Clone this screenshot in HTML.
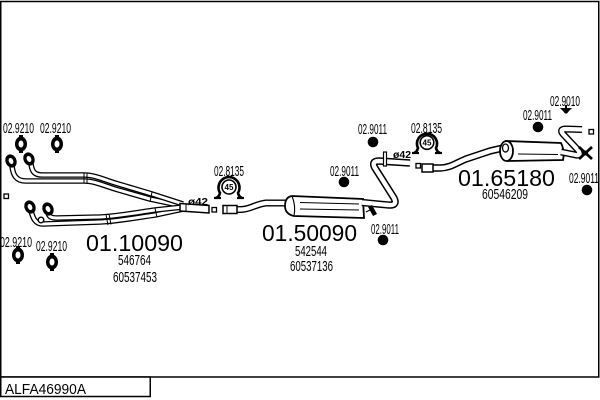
<!DOCTYPE html>
<html><head><meta charset="utf-8"><style>
html,body{margin:0;padding:0;background:#fff;}
svg{display:block;}
text{font-family:"Liberation Sans",Arial,sans-serif;fill:#000;}
.po{fill:none;stroke:#000;stroke-width:5.6;stroke-linejoin:round;}
.pi{fill:none;stroke:#fff;stroke-width:3;stroke-linejoin:round;}
.qo{fill:none;stroke:#000;stroke-width:7.4;stroke-linejoin:round;}
.qi{fill:none;stroke:#fff;stroke-width:4.4;stroke-linejoin:round;}
.s{font-size:14.5px;}
.b{font-size:23.5px;}
</style></head><body>
<svg width="600" height="400" viewBox="0 0 600 400" xmlns="http://www.w3.org/2000/svg">
<!-- frame -->
<rect x="0.75" y="1.5" width="598" height="375.5" fill="none" stroke="#000" stroke-width="1.5"/>
<rect x="0.75" y="377" width="149.5" height="19.5" fill="#fff" stroke="#000" stroke-width="1.5"/>
<text x="5" y="394" font-size="14.5" textLength="81" lengthAdjust="spacingAndGlyphs">ALFA46990A</text>

<!-- left header pipes -->
<path class="po" d="M12,166 C13,175 16,181 26,181 L84,181 C95,181 105,186 115,189 L150,199 L183,206"/>
<path class="pi" d="M12,166 C13,175 16,181 26,181 L84,181 C95,181 105,186 115,189 L150,199 L183,206"/>
<path class="po" d="M31,164 C32,171 34,175 42,175 L84,175 C95,175 105,180 115,183 L152,194 L183,204"/>
<path class="pi" d="M31,164 C32,171 34,175 42,175 L84,175 C95,175 105,180 115,183 L152,194 L183,204"/>
<path class="po" d="M31,211 C33,218 35,224 43,224 L100,222 C120,221 140,217 155,215 L183,209"/>
<path class="pi" d="M31,211 C33,218 35,224 43,224 L100,222 C120,221 140,217 155,215 L183,209"/>
<path class="po" d="M48,213 C49,216 50,218 57,218 L100,217 C120,216 140,212 155,210 L183,207"/>
<path class="pi" d="M48,213 C49,216 50,218 57,218 L100,217 C120,216 140,212 155,210 L183,207"/>
<!-- collector -->
<path d="M180,203.5 L209,205.5 L209,213 L180,211 Z" fill="#fff" stroke="#000" stroke-width="1.5"/>
<line x1="186" y1="204" x2="186" y2="211.5" stroke="#000" stroke-width="1"/>
<!-- coupling ridges -->
<line x1="84" y1="172.5" x2="84" y2="183.5" stroke="#000" stroke-width="1"/>
<line x1="87" y1="173" x2="87" y2="184" stroke="#000" stroke-width="1"/>
<line x1="106" y1="214.5" x2="108" y2="225" stroke="#000" stroke-width="1"/>
<line x1="109" y1="214" x2="111" y2="224.5" stroke="#000" stroke-width="1"/>
<line x1="152" y1="192" x2="150" y2="202" stroke="#000" stroke-width="1"/>
<line x1="155" y1="208" x2="157" y2="217.5" stroke="#000" stroke-width="1"/>
<circle cx="41" cy="220" r="2.8" fill="#fff" stroke="#000" stroke-width="1.4"/>
<!-- flanges -->
<g fill="#000">
<ellipse cx="11" cy="161" rx="5.5" ry="6.8" transform="rotate(-25 11 161)"/>
<ellipse cx="29" cy="159" rx="5.5" ry="6.8" transform="rotate(-25 29 159)"/>
<ellipse cx="30" cy="207" rx="5.5" ry="6.8" transform="rotate(-25 30 207)"/>
<ellipse cx="48" cy="209" rx="5.5" ry="6.8" transform="rotate(-25 48 209)"/>
</g>
<g fill="#fff">
<ellipse cx="11" cy="161" rx="2.2" ry="3.2" transform="rotate(-25 11 161)"/>
<ellipse cx="29" cy="159" rx="2.2" ry="3.2" transform="rotate(-25 29 159)"/>
<ellipse cx="30" cy="207" rx="2.2" ry="3.2" transform="rotate(-25 30 207)"/>
<ellipse cx="48" cy="209" rx="2.2" ry="3.2" transform="rotate(-25 48 209)"/>
</g>

<!-- gasket icons 02.9210 -->
<g fill="#000">
<ellipse cx="21" cy="144" rx="6" ry="7.5"/><rect x="19" y="135" width="4" height="3"/><rect x="19" y="150" width="4" height="3"/>
<ellipse cx="57" cy="144" rx="6" ry="7.5"/><rect x="55" y="135" width="4" height="3"/><rect x="55" y="150" width="4" height="3"/>
<ellipse cx="18" cy="255" rx="6" ry="7.5"/><rect x="16" y="246" width="4" height="3"/><rect x="16" y="261" width="4" height="3"/>
<ellipse cx="52" cy="262" rx="6" ry="7.5"/><rect x="50" y="253" width="4" height="3"/><rect x="50" y="268" width="4" height="3"/>
</g>
<g fill="#fff">
<ellipse cx="21" cy="144" rx="2.5" ry="3.5"/>
<ellipse cx="57" cy="144" rx="2.5" ry="3.5"/>
<ellipse cx="18" cy="255" rx="2.5" ry="3.5"/>
<ellipse cx="52" cy="262" rx="2.5" ry="3.5"/>
</g>

<!-- small squares -->
<g fill="#fff" stroke="#000" stroke-width="1.3">
<rect x="4" y="194" width="4.5" height="4.5"/>
<rect x="212" y="207.5" width="4.5" height="4.5"/>
<rect x="416" y="163.5" width="4.5" height="4.5"/>
<rect x="589" y="129.5" width="4.5" height="4.5"/>
</g>

<!-- middle section -->
<path class="po" d="M236,209.5 L241,209.5 C250,209.5 256,204 266,203 L287,203" style="stroke-width:7"/>
<path class="pi" d="M236,209.5 L241,209.5 C250,209.5 256,204 266,203 L287,203" style="stroke-width:4.2"/>
<rect x="223" y="205.5" width="14" height="8" fill="#fff" stroke="#000" stroke-width="1.5"/>
<line x1="227" y1="205.5" x2="227" y2="213.5" stroke="#000" stroke-width="1"/>
<path d="M292,196 L363,199 L364,218 L294,216 Q285,214 285,206 Q285,197 292,196 Z" fill="#fff" stroke="#000" stroke-width="1.8"/>
<path d="M292,196 Q296,206 294,216" fill="none" stroke="#000" stroke-width="1.1"/>
<line x1="300" y1="202.5" x2="359" y2="204" stroke="#000" stroke-width="1"/>
<line x1="300" y1="209" x2="359" y2="210" stroke="#000" stroke-width="1"/>
<path class="qo" d="M362,202.5 L388,205 Q398,206 394,198 L375,168 Q371,161 379,161 L410,163"/>
<path class="qi" d="M362,202.5 L388,205 Q398,206 394,198 L375,168 Q371,161 379,161 L410,163"/>
<rect x="383.5" y="152" width="3" height="14" fill="#fff" stroke="#000" stroke-width="1.2"/>
<path d="M368,207 L372,205 L377,214 L373,216 Z" fill="#000"/>
<line x1="366" y1="212" x2="372" y2="209" stroke="#000" stroke-width="1.2"/>

<!-- right section -->
<path class="qo" d="M432,168 L440,168 C450,168 456,163 466,159 L490,151 L503,148"/>
<path class="qi" d="M432,168 L440,168 C450,168 456,163 466,159 L490,151 L503,148"/>
<rect x="422" y="164" width="11" height="8" fill="#fff" stroke="#000" stroke-width="1.5"/>
<path d="M506,141 L561,143 Q565,151 563,160 L508,161 Z" fill="#fff" stroke="#000" stroke-width="1.8"/>
<ellipse cx="506.5" cy="151" rx="6.5" ry="10" fill="#fff" stroke="#000" stroke-width="1.8"/>
<ellipse cx="505.5" cy="148" rx="3" ry="4" fill="#fff" stroke="#000" stroke-width="1.3"/>
<line x1="518" y1="154" x2="558" y2="154.5" stroke="#000" stroke-width="1"/>
<path class="qo" d="M561,152 L576,155 Q582,156 578,150 L563,134 Q559,129 566,129 L582,129.5" style="stroke-width:7"/>
<path class="qi" d="M561,152 L576,155 Q582,156 578,150 L563,134 Q559,129 566,129 L582,129.5" style="stroke-width:4.2"/>
<g stroke="#000" stroke-width="2.8">
<line x1="579" y1="147" x2="592" y2="159"/>
<line x1="579" y1="159" x2="592" y2="147"/>
</g>
<circle cx="585.5" cy="153" r="2.5" fill="#000"/>
<!-- 02.9010 icon -->
<path d="M560,108 L572,108 L569,111 L567,113.5 L565,113.5 L563,111 Z" fill="#000"/>
<rect x="565" y="105" width="2" height="3" fill="#000"/>

<!-- clamps 02.8135 -->
<g fill="none" stroke="#000">
<path d="M216,198 Q219,197 220,193 A10.5,10.5 0 1 1 238,193 Q239,197 242,198" stroke-width="2.6"/>
<line x1="214" y1="198" x2="221" y2="198" stroke-width="2.2"/>
<line x1="237" y1="198" x2="244" y2="198" stroke-width="2.2"/>
<circle cx="229" cy="187" r="7" stroke-width="1.6"/>
<path d="M414,153 Q417,152 418,148 A10,10 0 1 1 436,148 Q437,152 440,153" stroke-width="2.6"/>
<line x1="412" y1="153" x2="419" y2="153" stroke-width="2.2"/>
<line x1="435" y1="153" x2="442" y2="153" stroke-width="2.2"/>
<circle cx="427" cy="142.5" r="6.8" stroke-width="1.6"/>
</g>
<text x="229" y="190" font-size="8" font-weight="bold" text-anchor="middle">45</text>
<text x="427" y="145.5" font-size="8" font-weight="bold" text-anchor="middle">45</text>

<!-- dots 02.9011 -->
<g fill="#000">
<circle cx="373" cy="142" r="5.3"/>
<circle cx="344" cy="182" r="5.3"/>
<circle cx="383" cy="240" r="5.3"/>
<circle cx="538" cy="127" r="5.3"/>
<circle cx="587" cy="190" r="5.3"/>
</g>

<!-- labels -->
<text class="s" x="3" y="133" textLength="31" lengthAdjust="spacingAndGlyphs">02.9210</text>
<text class="s" x="40" y="133" textLength="31" lengthAdjust="spacingAndGlyphs">02.9210</text>
<text class="s" x="0" y="247" textLength="32" lengthAdjust="spacingAndGlyphs">02.9210</text>
<text class="s" x="36" y="251" textLength="31" lengthAdjust="spacingAndGlyphs">02.9210</text>
<text class="s" x="214" y="176" textLength="30" lengthAdjust="spacingAndGlyphs">02.8135</text>
<text class="s" x="358" y="134" textLength="29" lengthAdjust="spacingAndGlyphs">02.9011</text>
<text class="s" x="330" y="176" textLength="29" lengthAdjust="spacingAndGlyphs">02.9011</text>
<text class="s" x="371" y="234" textLength="28" lengthAdjust="spacingAndGlyphs">02.9011</text>
<text class="s" x="411" y="133" textLength="31" lengthAdjust="spacingAndGlyphs">02.8135</text>
<text class="s" x="523" y="120" textLength="29" lengthAdjust="spacingAndGlyphs">02.9011</text>
<text class="s" x="550" y="106" textLength="30" lengthAdjust="spacingAndGlyphs">02.9010</text>
<text class="s" x="569" y="183" textLength="30" lengthAdjust="spacingAndGlyphs">02.9011</text>
<text class="s" x="118" y="265" textLength="33" lengthAdjust="spacingAndGlyphs">546764</text>
<text class="s" x="113" y="282" textLength="44" lengthAdjust="spacingAndGlyphs">60537453</text>
<text class="s" x="295" y="256" textLength="32" lengthAdjust="spacingAndGlyphs">542544</text>
<text class="s" x="290" y="271" textLength="43" lengthAdjust="spacingAndGlyphs">60537136</text>
<text class="s" x="482" y="199" textLength="46" lengthAdjust="spacingAndGlyphs">60546209</text>
<text class="b" x="86" y="251" textLength="97" lengthAdjust="spacingAndGlyphs">01.10090</text>
<text class="b" x="262" y="241" textLength="95" lengthAdjust="spacingAndGlyphs">01.50090</text>
<text class="b" x="458" y="186" textLength="97" lengthAdjust="spacingAndGlyphs">01.65180</text>
<text x="188" y="205" font-size="10.5" font-weight="bold" textLength="20" lengthAdjust="spacingAndGlyphs">ø42</text>
<text x="393" y="158" font-size="10.5" font-weight="bold" textLength="18" lengthAdjust="spacingAndGlyphs">ø42</text>
</svg>
</body></html>
